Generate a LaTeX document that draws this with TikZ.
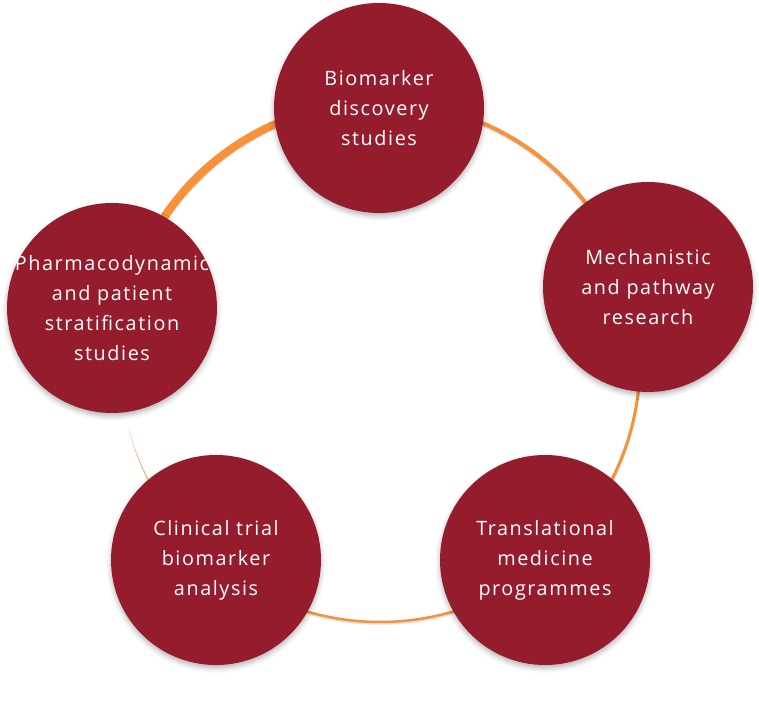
\documentclass[tikz,border=0pt]{standalone}
\usepackage{fontspec}
\setmainfont{Open Sans}[LetterSpace=8.0]
\usetikzlibrary{shadows.blur}
\definecolor{wine}{HTML}{951C2C}
\definecolor{ringorange}{HTML}{F7923A}
\newcommand\ringarc[5]{% start, end, width1, width2, colour options
  \fill[#5] plot[domain=#1:#2, samples=60]
    ({380+(260+(#3+(#4-#3)*(\x-#1)/(#2-#1))/2)*cos(\x)},
     {362+(260+(#3+(#4-#3)*(\x-#1)/(#2-#1))/2)*sin(\x)})
    -- plot[domain=#2:#1, samples=60]
    ({380+(260-(#3+(#4-#3)*(\x-#1)/(#2-#1))/2)*cos(\x)},
     {362+(260-(#3+(#4-#3)*(\x-#1)/(#2-#1))/2)*sin(\x)})
    -- cycle;}
\tikzset{
  hub/.style={circle, fill=wine, minimum size=210pt, inner sep=0pt,
    blur shadow={shadow xshift=0pt, shadow yshift=-3pt,
      shadow blur radius=5pt, shadow opacity=30}},
  hubtext/.style={text=white, align=center, inner sep=0pt,
    font=\fontsize{19.8}{30}\selectfont},
  ringfill/.style={ringorange},
  ringshade/.style={black, opacity=0.12, yshift=-1.5pt}
}
\begin{document}
\begin{tikzpicture}[x=1pt, y=-1pt]
  \useasboundingbox (0,0) rectangle (759,714);
  % ring shadow
  \ringarc{190}{272}{8.5}{7.5}{ringshade}
  \ringarc{268}{346}{4}{4}{ringshade}
  \ringarc{342}{412}{3}{3}{ringshade}
  \ringarc{408}{492}{2.5}{2.5}{ringshade}
  \ringarc{488}{525}{2.2}{0}{ringshade}
  % ring
  \ringarc{190}{272}{8.5}{7.5}{ringfill}
  \ringarc{268}{346}{4}{4}{ringfill}
  \ringarc{342}{412}{3}{3}{ringfill}
  \ringarc{408}{492}{2.5}{2.5}{ringfill}
  \ringarc{488}{525}{2.2}{0}{ringfill}
  % hubs
  \node[hub, label={[hubtext]center:Biomarker\\discovery\\studies}] (bio) at (379,108) {};
  \node[hub, label={[hubtext]center:Mechanistic\\and pathway\\research}] (mech) at (648,287) {};
  \node[hub, label={[hubtext]center:Translational\\medicine\\programmes}] (trans) at (545,560) {};
  \node[hub, label={[hubtext]center:Clinical trial\\biomarker\\analysis}] (clin) at (216,560) {};
  \node[hub, label={[hubtext]center:Pharmacodynamic\\and patient\\stratification\\studies}] (pharma) at (112,308) {};
\end{tikzpicture}
\end{document}
